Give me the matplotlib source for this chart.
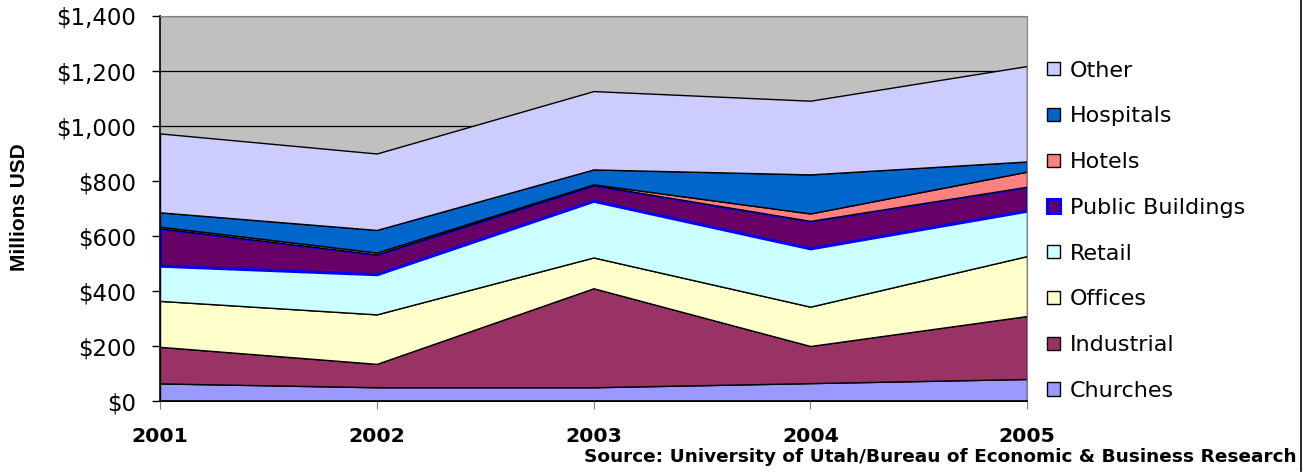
import matplotlib
matplotlib.use("Agg")
import matplotlib.pyplot as plt
from matplotlib.patches import Patch
from matplotlib.lines import Line2D
from matplotlib.ticker import FuncFormatter, MultipleLocator
import numpy as np

plt.rcParams['font.family'] = ['DejaVu Sans']

years = ["2001", "2002", "2003", "2004", "2005"]

# Construction value by building type, millions USD (bottom to top of the stack)
churches = [64, 50, 50, 65, 80]
industrial = [133, 85, 360, 135, 229]
offices = [167, 180, 112, 143, 218]
retail = [128, 146, 206, 212, 165]
public_buildings = [136, 72, 57, 100, 87]
hotels = [6, 7, 3, 27, 55]
hospitals = [52, 82, 54, 142, 37]
other = [287, 278, 285, 268, 347]

series = [
    ("Churches", churches, "#9999FF", "black", 1.0),
    ("Industrial", industrial, "#993366", "black", 1.0),
    ("Offices", offices, "#FFFFCC", "black", 1.0),
    ("Retail", retail, "#CCFFFF", "black", 1.0),
    ("Public Buildings", public_buildings, "#660066", "#0000FF", 2.2),
    ("Hotels", hotels, "#FF8080", "black", 1.0),
    ("Hospitals", hospitals, "#0066CC", "black", 1.0),
    ("Other", other, "#CCCCFF", "black", 1.0),
]

fig = plt.figure(figsize=(13.12, 4.73), dpi=100)
ax = fig.add_axes([160 / 1312, 1 - 401 / 473, 867 / 1312, 385 / 473])
ax.set_facecolor("#C0C0C0")

x = np.arange(len(years))
base = np.zeros(len(years))
handles = []
for name, vals, face, edge, lw in series:
    top = base + np.array(vals, dtype=float)
    ax.fill_between(x, base, top, facecolor=face, edgecolor=edge,
                    linewidth=lw, zorder=2)
    handles.append(Patch(facecolor=face, edgecolor=edge, linewidth=lw, label=name))
    base = top

ax.set_xlim(0, len(years) - 1)
ax.set_ylim(0, 1400)
ax.yaxis.set_major_locator(MultipleLocator(200))
ax.yaxis.set_major_formatter(FuncFormatter(lambda v, p: f"${v:,.0f}"))
ax.grid(axis="y", color="black", linewidth=0.9, zorder=1)
ax.set_axisbelow(True)

ax.set_xticks(x)
ax.set_xticklabels(years, fontsize=14.7, fontweight="bold")
ax.tick_params(axis="x", direction="out", length=6, width=0.8, pad=13,
               color="#808080")
ax.tick_params(axis="y", direction="out", length=6, width=1.0, pad=11,
               labelsize=16.5)

for side in ("top", "right"):
    ax.spines[side].set_color("#808080")
for side in ("left", "bottom"):
    ax.spines[side].set_color("black")
    ax.spines[side].set_linewidth(1.2)

fig.text(20 / 1312, 1 - 207 / 473, "Millions USD", rotation=90,
         ha="center", va="center", fontsize=15, fontweight="bold",
         family="Liberation Sans")

leg = fig.legend(handles=handles[::-1], loc="upper left",
                 bbox_to_anchor=(1031 / 1312, 1 - 45 / 473),
                 frameon=False, fontsize=16, handlelength=0.6,
                 handleheight=0.55, handletextpad=0.45, labelspacing=1.16,
                 borderpad=0.2)

fig.text(1297 / 1312, 1 - 457 / 473,
         "Source: University of Utah/Bureau of Economic & Business Research",
         ha="right", va="center", fontsize=13.3, fontweight="bold")

fig.add_artist(Line2D([1301 / 1312, 1301 / 1312], [0.005, 1.0],
                      color="black", linewidth=1.2))

fig.savefig("out.png", dpi=100)
